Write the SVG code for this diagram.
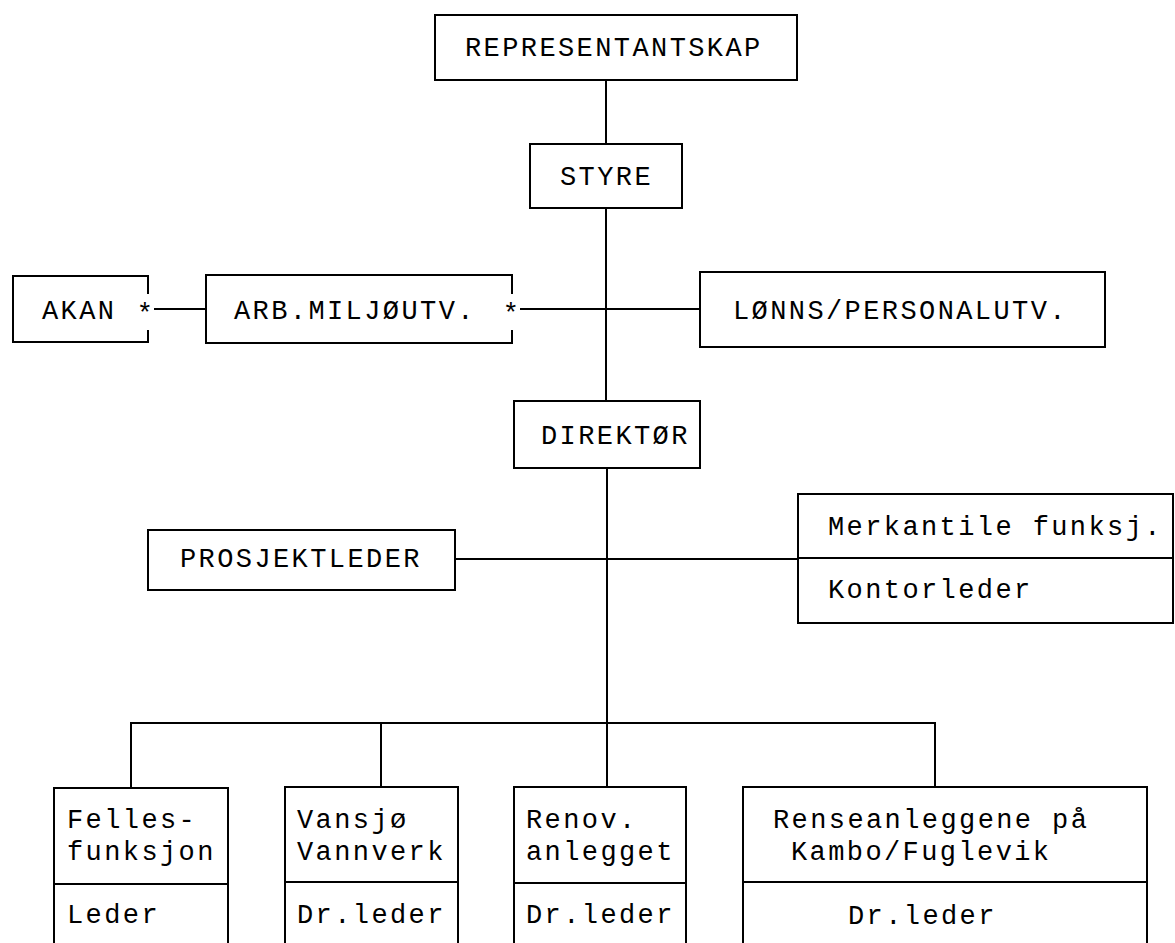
<svg xmlns="http://www.w3.org/2000/svg" width="1175" height="943" viewBox="0 0 1175 943">
<style>
.box{fill:#fff;stroke:#000;stroke-width:2}
.ln{fill:none;stroke:#000;stroke-width:2}
text{font-family:"Liberation Mono","Courier New",monospace;font-size:27px;letter-spacing:2.4px;fill:#000}
</style>
<rect width="1175" height="943" fill="#fff"/>
<g id="connectors">
<path class="ln" d="M606 80V144M606 208V401M607 468V787"/>
<path class="ln" d="M154 309H206M520 309H700"/>
<path class="ln" d="M455 559H798"/>
<path class="ln" d="M131 788V723H935V787M381 723V787"/>
</g>
<g id="representantskap"><rect class="box" x="435" y="15" width="362" height="65"/><text x="465" y="56">REPRESENTANTSKAP</text></g>
<g id="styre"><rect class="box" x="530" y="144" width="152" height="64"/><text x="560" y="185">STYRE</text></g>
<g id="akan"><path class="ln" d="M148 294V276H13V342H148V330"/><text x="42" y="319">AKAN</text><text x="146" y="322" text-anchor="middle">*</text></g>
<g id="arb"><path class="ln" d="M512 294V275H206V343H512V330"/><text x="234" y="319">ARB.MILJØUTV.</text><text x="512" y="322" text-anchor="middle">*</text></g>
<g id="lonns"><rect class="box" x="700" y="272" width="405" height="75"/><text x="733" y="319">LØNNS/PERSONALUTV.</text></g>
<g id="direktor"><rect class="box" x="514" y="401" width="186" height="67"/><text x="541" y="444">DIREKTØR</text></g>
<g id="prosjektleder"><rect class="box" x="148" y="530" width="307" height="60"/><text x="180" y="567">PROSJEKTLEDER</text></g>
<g id="merkantile"><rect class="box" x="798" y="494" width="375" height="129"/><path class="ln" d="M798 558H1173"/><text x="828" y="535">Merkantile funksj.</text><text x="828" y="598">Kontorleder</text></g>
<g id="felles"><rect class="box" x="54" y="788" width="174" height="170"/><path class="ln" d="M54 884H228"/><text x="67" y="828">Felles-</text><text x="67" y="860">funksjon</text><text x="67" y="923">Leder</text></g>
<g id="vansjo"><rect class="box" x="285" y="787" width="173" height="170"/><path class="ln" d="M285 882H458"/><text x="297" y="828">Vansjø</text><text x="297" y="860">Vannverk</text><text x="297" y="923">Dr.leder</text></g>
<g id="renov"><rect class="box" x="514" y="787" width="172" height="170"/><path class="ln" d="M514 883H686"/><text x="526" y="828">Renov.</text><text x="526" y="860">anlegget</text><text x="526" y="923">Dr.leder</text></g>
<g id="rense"><rect class="box" x="743" y="787" width="404" height="170"/><path class="ln" d="M743 882H1147"/><text x="773" y="828">Renseanleggene på</text><text x="791" y="860">Kambo/Fuglevik</text><text x="848" y="924">Dr.leder</text></g>
</svg>
